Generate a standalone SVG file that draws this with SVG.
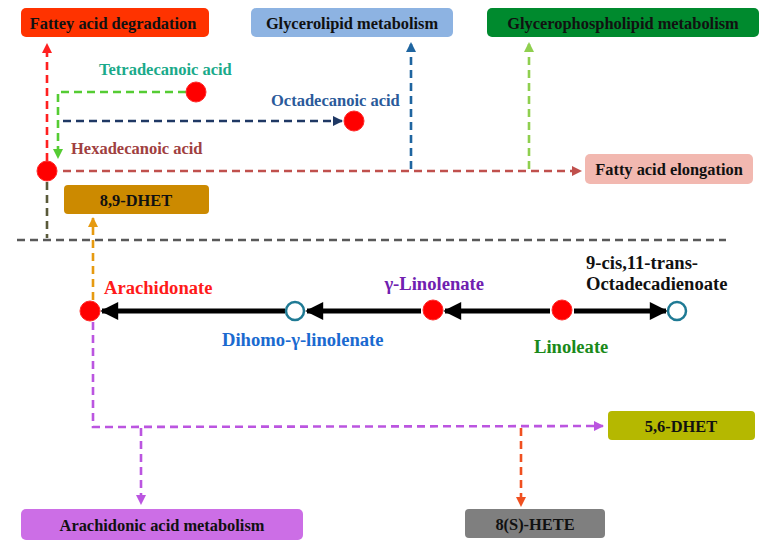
<svg xmlns="http://www.w3.org/2000/svg" width="774" height="552" viewBox="0 0 774 552">
<style>
text{font-family:"Liberation Serif","Times New Roman",serif;font-weight:bold;}
.bt{font-size:16.4px;fill:#111;text-anchor:middle;dominant-baseline:central;}
.lb{font-size:16.5px;dominant-baseline:central;}
.lg{font-size:18.6px;dominant-baseline:central;}
.d{fill:none;stroke-width:2.6;stroke-dasharray:8 5;}
.s{fill:none;stroke:#000;stroke-width:5;}
.red{fill:#ff0000;stroke:#ff2a2a;stroke-width:1;}
.open{fill:#fff;stroke:#1f7a94;stroke-width:2.5;}
</style>
<defs>
<marker id="mRed" viewBox="0 0 10 10" refX="9" refY="5" markerWidth="4" markerHeight="4" orient="auto" markerUnits="strokeWidth"><path d="M0,0 L10,5 L0,10 z" fill="#ff2020"/></marker>
<marker id="mGreen" viewBox="0 0 10 10" refX="9" refY="5" markerWidth="4" markerHeight="4" orient="auto" markerUnits="strokeWidth"><path d="M0,0 L10,5 L0,10 z" fill="#55cc33"/></marker>
<marker id="mNavy" viewBox="0 0 10 10" refX="9" refY="5" markerWidth="4" markerHeight="4" orient="auto" markerUnits="strokeWidth"><path d="M0,0 L10,5 L0,10 z" fill="#1f3864"/></marker>
<marker id="mBrown" viewBox="0 0 10 10" refX="9" refY="5" markerWidth="4" markerHeight="4" orient="auto" markerUnits="strokeWidth"><path d="M0,0 L10,5 L0,10 z" fill="#c0504d"/></marker>
<marker id="mBlue" viewBox="0 0 10 10" refX="9" refY="5" markerWidth="4" markerHeight="4" orient="auto" markerUnits="strokeWidth"><path d="M0,0 L10,5 L0,10 z" fill="#1f65a0"/></marker>
<marker id="mLGreen" viewBox="0 0 10 10" refX="9" refY="5" markerWidth="4" markerHeight="4" orient="auto" markerUnits="strokeWidth"><path d="M0,0 L10,5 L0,10 z" fill="#8fcf4f"/></marker>
<marker id="mOrange" viewBox="0 0 10 10" refX="9" refY="5" markerWidth="4" markerHeight="4" orient="auto" markerUnits="strokeWidth"><path d="M0,0 L10,5 L0,10 z" fill="#e69a10"/></marker>
<marker id="mPurple" viewBox="0 0 10 10" refX="9" refY="5" markerWidth="4" markerHeight="4" orient="auto" markerUnits="strokeWidth"><path d="M0,0 L10,5 L0,10 z" fill="#bb55e0"/></marker>
<marker id="mOrRed" viewBox="0 0 10 10" refX="9" refY="5" markerWidth="4" markerHeight="4" orient="auto" markerUnits="strokeWidth"><path d="M0,0 L10,5 L0,10 z" fill="#f05020"/></marker>
<marker id="mBlack" viewBox="0 0 10 10" refX="9" refY="5" markerWidth="4.4" markerHeight="3.6" orient="auto" markerUnits="strokeWidth"><path d="M0,0 L10,5 L0,10 z" fill="#000"/></marker>
</defs>

<g id="connectors">
<line class="d" x1="17" y1="240" x2="726" y2="240" stroke="#595959" stroke-width="3"/>
<line class="d" x1="47" y1="161" x2="47" y2="44" stroke="#ff2020" marker-end="url(#mRed)"/>
<line class="d" x1="47" y1="182" x2="47" y2="238" stroke="#5a5a3a"/>
<polyline class="d" points="186,92 58,92 58,158" stroke="#55cc33" marker-end="url(#mGreen)"/>
<line class="d" x1="63" y1="121" x2="342" y2="121" stroke="#1f3864" marker-end="url(#mNavy)"/>
<line class="d" x1="63" y1="171" x2="581" y2="171" stroke="#c0504d" marker-end="url(#mBrown)"/>
<line class="d" x1="411" y1="169" x2="411" y2="43" stroke="#1f65a0" marker-end="url(#mBlue)"/>
<line class="d" x1="529" y1="169" x2="529" y2="43" stroke="#8fcf4f" marker-end="url(#mLGreen)"/>
<line class="d" x1="93" y1="300" x2="93" y2="218" stroke="#e69a10" marker-end="url(#mOrange)"/>
<polyline class="d" points="93,322 93,427 603,426" stroke="#bb55e0" marker-end="url(#mPurple)"/>
<line class="d" x1="141" y1="428" x2="141" y2="504" stroke="#bb55e0" marker-end="url(#mPurple)"/>
<line class="d" x1="521" y1="428" x2="521" y2="506" stroke="#f05020" marker-end="url(#mOrRed)"/>
<line class="s" x1="285" y1="311" x2="102" y2="311" marker-end="url(#mBlack)"/>
<line class="s" x1="421" y1="311" x2="307" y2="311" marker-end="url(#mBlack)"/>
<line class="s" x1="550" y1="311" x2="445" y2="311" marker-end="url(#mBlack)"/>
<line class="s" x1="574" y1="311" x2="666" y2="311" marker-end="url(#mBlack)"/>
</g>

<g id="fattey-acid-degradation"><rect x="21" y="8" width="188" height="29" rx="5" fill="#ff3300"/><text class="bt" x="113" y="23">Fattey acid  degradation</text></g>
<g id="glycerolipid-metabolism"><rect x="251" y="8" width="202" height="29" rx="5" fill="#8db3e2"/><text class="bt" x="352" y="23">Glycerolipid  metabolism</text></g>
<g id="glycerophospholipid-metabolism"><rect x="487" y="8" width="272" height="29" rx="5" fill="#008a2e"/><text class="bt" x="623" y="23">Glycerophospholipid  metabolism</text></g>
<g id="fatty-acid-elongation"><rect x="585" y="154" width="168" height="30" rx="5" fill="#f2b8b0"/><text class="bt" x="669" y="169">Fatty acid elongation</text></g>
<g id="dhet-89"><rect x="64" y="185" width="145" height="29" rx="4" fill="#cc8a00"/><text class="bt" x="136" y="200">8,9-DHET</text></g>
<g id="dhet-56"><rect x="608" y="411" width="147" height="29" rx="4" fill="#b5b800"/><text class="bt" x="681" y="426">5,6-DHET</text></g>
<g id="hete-8s"><rect x="465" y="509" width="140" height="29" rx="4" fill="#7f7f7f"/><text class="bt" x="535" y="524">8(S)-HETE</text></g>
<g id="arachidonic-acid-metabolism"><rect x="21" y="509" width="282" height="31" rx="5" fill="#cc6ee6"/><text class="bt" x="162" y="525">Arachidonic  acid metabolism</text></g>

<g id="tetradecanoic-acid"><circle class="red" cx="196" cy="92" r="10"/><text class="lb" x="99" y="69" fill="#1aaa8a">Tetradecanoic  acid</text></g>
<g id="octadecanoic-acid"><circle class="red" cx="354" cy="121" r="10"/><text class="lb" x="271" y="100" fill="#2a5a9a">Octadecanoic acid</text></g>
<g id="hexadecanoic-acid"><circle class="red" cx="47" cy="171" r="10"/><text class="lb" x="71" y="148" fill="#a04040">Hexadecanoic  acid</text></g>
<g id="arachidonate"><circle class="red" cx="90" cy="311" r="10"/><text class="lg" x="104" y="287" fill="#ff1a1a">Arachidonate</text></g>
<g id="dihomo-gamma-linolenate"><circle class="open" cx="295" cy="311" r="9"/><text class="lg" x="222" y="339" fill="#1a6ad0">Dihomo-γ-linolenate</text></g>
<g id="gamma-linolenate"><circle class="red" cx="433" cy="310" r="10"/><text class="lg" x="484" y="283" fill="#7020b0" text-anchor="end">γ-Linolenate</text></g>
<g id="linoleate"><circle class="red" cx="562" cy="310" r="10"/><text class="lg" x="534" y="346" fill="#1a8a1a">Linoleate</text></g>
<g id="octadecadienoate"><circle class="open" cx="677" cy="311" r="9"/><text class="lg" x="586" y="262" fill="#111">9-cis,11-trans-</text><text class="lg" x="586" y="283" fill="#111">Octadecadienoate</text></g>
</svg>
